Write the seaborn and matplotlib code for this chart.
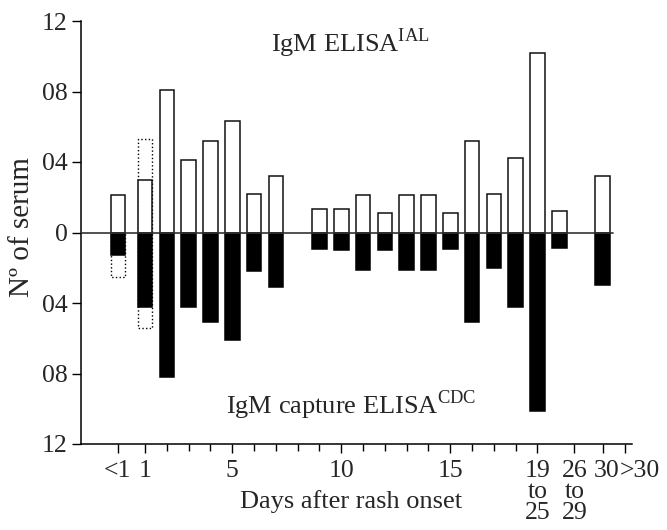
import numpy as np
import matplotlib
matplotlib.use('Agg')
import matplotlib.pyplot as plt
import matplotlib.transforms as mtransforms
import seaborn as sns
from matplotlib.ticker import FixedLocator, NullFormatter

# Day positions of the bars (<1 sits a bit left of day 1, the 26-29 bar at 20)
bar_pos = [-0.25, 1, 2, 3, 4, 5, 6, 7, 9, 10, 11, 12, 13, 14, 15, 16, 17, 18, 19, 20, 22]
# IgM ELISA IAL (upper, white bars)
ial_vals = [2.1, 3.0, 8.1, 4.1, 5.2, 6.3, 2.2, 3.2, 1.35, 1.35, 2.1, 1.1, 2.1, 2.1,
            1.1, 5.2, 2.2, 4.2, 10.2, 1.2, 3.2]
# IgM capture ELISA CDC (lower, black bars)
cdc_vals = [1.3, 4.2, 8.2, 4.2, 5.1, 6.1, 2.2, 3.1, 0.95, 1.0, 2.1, 1.0, 2.1, 2.1,
            0.95, 5.1, 2.0, 4.2, 10.1, 0.9, 3.0]

# dotted extensions (totals)
dot_pos = [-0.25, 1]
ial_dot = [0, 5.3]
cdc_dot = [2.5, 5.4]

major_ticks = [-0.25, 1, 5, 10, 15, 19, 20.7, 22, 23]
major_labels = ['<1', '1', '5', '10', '15', '19\nto\n25', '26\nto\n29', '30', '>30']
minor_ticks = [2, 3, 4, 6, 7, 8, 9, 11, 12, 13, 14, 16, 17, 18]

y_ticks = [-12, -8, -4, 0, 4, 8, 12]
y_labels = ['12', '08', '04', '0', '04', '08', '12']

sns.set_style('ticks')
plt.rcParams['font.family'] = ['Liberation Serif', 'DejaVu Serif']
plt.rcParams['mathtext.fontset'] = 'custom'
plt.rcParams['mathtext.rm'] = 'Liberation Serif'

fig = plt.figure(figsize=(6.67, 5.30), dpi=100)
ax = fig.add_axes([81 / 667, 86 / 530, 551 / 667, 423 / 530])

bar_w = 0.67
lw = 1.1
dot_w = bar_w / np.diff(dot_pos).min()

# dotted boxes first, solid bars drawn over them
sns.barplot(x=dot_pos, y=ial_dot, native_scale=True, orient='x', width=dot_w,
            color='white', saturation=1, edgecolor='black', linewidth=1.0,
            linestyle=':', errorbar=None, ax=ax)
sns.barplot(x=dot_pos, y=[-v for v in cdc_dot], native_scale=True, orient='x', width=dot_w,
            color='white', saturation=1, edgecolor='black', linewidth=1.0,
            linestyle=':', errorbar=None, ax=ax)

sns.barplot(x=bar_pos, y=ial_vals, native_scale=True, orient='x', width=bar_w,
            color='white', saturation=1, edgecolor='#111111', linewidth=lw,
            errorbar=None, ax=ax)
sns.barplot(x=bar_pos, y=[-v for v in cdc_vals], native_scale=True, orient='x', width=bar_w,
            color='black', saturation=1, edgecolor='black', linewidth=lw,
            errorbar=None, ax=ax)

ax.axhline(0, xmin=0, xmax=0.966, color='#333333', lw=1.2, zorder=5)

ax.set_xlim(-1.94, 23.34)
ax.set_ylim(-12, 12)
ax.set_xticks(major_ticks)
ax.set_xticklabels(major_labels, fontsize=18.5, linespacing=0.95, va='top')
ax.xaxis.set_minor_locator(FixedLocator(minor_ticks))
ax.xaxis.set_minor_formatter(NullFormatter())
ax.set_yticks(y_ticks)
ax.set_yticklabels(y_labels, fontsize=18.5)

ax.tick_params(axis='x', which='major', length=6.5, width=1.0, pad=5, color='black')
ax.tick_params(axis='x', which='minor', length=5, width=1.0, color='black')
ax.tick_params(axis='y', length=6.5, width=1.0, pad=3, color='black')

# squeeze "30" and ">30" together to the right like the original
# (after tick_params, which resets label transforms)
for lab, dx in zip(ax.get_xticklabels()[-2:], [0.04, 0.15]):
    lab.set_transform(lab.get_transform() +
                      mtransforms.ScaledTranslation(dx, 0, fig.dpi_scale_trans))

for side in ['top', 'right']:
    ax.spines[side].set_visible(False)
for side in ['left', 'bottom']:
    ax.spines[side].set_linewidth(1.1)
    ax.spines[side].set_color('black')

ax.set_xlabel('')
ax.set_ylabel('')

ax.text(0.488, 0.927, r'IgM ELISA$^{\rm IAL}$', transform=ax.transAxes,
        ha='center', va='baseline', fontsize=19)
ax.text(0.49, 0.071, r'IgM capture ELISA$^{\rm CDC}$', transform=ax.transAxes,
        ha='center', va='baseline', fontsize=19)

fig.text(351 / 667, 1 - 508 / 530, 'Days after rash onset', ha='center',
         va='baseline', fontsize=19)
fig.text(22 / 667, 1 - 227 / 530, 'Nº of serum', ha='center', va='center',
         rotation=90, fontsize=21)

fig.savefig('out.png', dpi=100)
